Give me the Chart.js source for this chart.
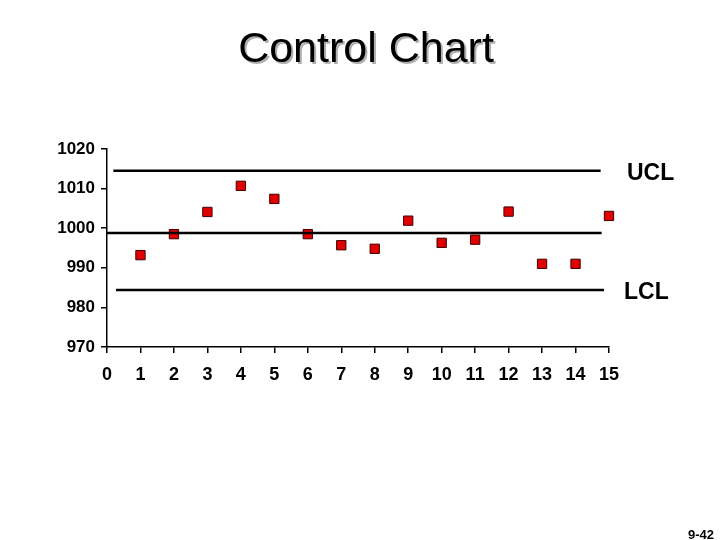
<!DOCTYPE html>
<html>
<head>
<meta charset="utf-8">
<script src="https://cdn.jsdelivr.net/npm/chart.js@4"></script>
<style>
  html, body { margin: 0; padding: 0; background: #fff; }
  #wrap { position: relative; width: 720px; height: 540px; overflow: hidden; }
  #title {
    position: absolute; left: 0; top: 26px; width: 732px; text-align: center;
    font: 43px/43px "Liberation Sans", Arial, sans-serif; color: #000;
    text-shadow: 2px 2px 0 #b0b0b0;
  }
  #pageNo {
    position: absolute; right: 6px; top: 528px;
    font: bold 13px/13px "Liberation Sans", Arial, sans-serif; color: #000;
  }
  canvas { position: absolute; left: 0; top: 0; }
</style>
</head>
<body>
<div id="wrap">
  <canvas id="chart" width="720" height="540"></canvas>
  <div id="title">Control Chart</div>
  <div id="pageNo">9-42</div>
</div>
<script>
"use strict";

// sample number and measured value
const samples = [1, 2, 3, 4, 5, 6, 7, 8, 9, 10, 11, 12, 13, 14, 15];
const values = [993.2, 998.5, 1004.1, 1010.7, 1007.4, 998.5, 995.7, 994.8,
                1001.9, 996.3, 997.1, 1004.2, 991.0, 991.0, 1003.1];

// control limits: [value, from x, to x]
const ucl = [1014.5, 0.19, 14.75];
const centerLine = [998.8, 0, 14.78];
const lcl = [984.4, 0.27, 14.85];
const limitLabels = ["UCL", "LCL"];

const X_MIN = 0, X_MAX = 15;
const Y_MIN = 970, Y_MAX = 1020, Y_STEP = 10;

const FONT = '"Liberation Sans", Arial, sans-serif';

const limitLine = (l) => ({
  type: "line",
  data: [{ x: l[1], y: l[0] }, { x: l[2], y: l[0] }],
  borderColor: "#000",
  borderWidth: 2.5,
  pointRadius: 0,
  showLine: true,
});

// UCL / LCL text to the right of the plot
const limitText = {
  id: "limitText",
  afterDraw(c) {
    const ctx = c.ctx;
    const ys = c.scales.y;
    const left = c.chartArea.right + 17;
    ctx.save();
    ctx.font = "bold 23px " + FONT;
    ctx.fillStyle = "#000";
    ctx.textBaseline = "middle";
    ctx.textAlign = "left";
    ctx.fillText(limitLabels[0], left + 1, ys.getPixelForValue(ucl[0]) + 3);
    ctx.fillText(limitLabels[1], left - 2, ys.getPixelForValue(lcl[0]) + 3);
    ctx.restore();
  },
};

new Chart(document.getElementById("chart"), {
  type: "scatter",
  data: {
    datasets: [
      limitLine(ucl),
      limitLine(centerLine),
      limitLine(lcl),
      {
        label: "samples",
        data: samples.map((s, i) => ({ x: s, y: values[i] })),
        pointStyle: "rect",
        pointRadius: 6.6,
        pointBackgroundColor: "#e00000",
        pointBorderColor: "#400000",
        pointBorderWidth: 1,
        showLine: false,
        clip: false,
      },
    ],
  },
  options: {
    responsive: false,
    animation: false,
    layout: { padding: { left: 0, top: 149, right: 111, bottom: 153 } },
    plugins: { legend: { display: false }, tooltip: { enabled: false } },
    scales: {
      x: {
        type: "linear",
        min: X_MIN, max: X_MAX,
        afterFit: (a) => { a.height = 40; },
        ticks: {
          stepSize: 1, padding: 11, color: "#000",
          callback: (v) => String(v),
          font: { family: FONT, size: 18, weight: "bold" },
        },
        grid: { drawOnChartArea: false, tickLength: 6, color: "#000", lineWidth: 1.5 },
        border: { color: "#000", width: 1.5 },
      },
      y: {
        min: Y_MIN, max: Y_MAX,
        afterFit: (a) => { a.width = 107; },
        ticks: {
          stepSize: Y_STEP, padding: 6, color: "#000",
          callback: (v) => String(v),
          font: { family: FONT, size: 17, weight: "bold" },
        },
        grid: { drawOnChartArea: false, tickLength: 6, color: "#000", lineWidth: 1.5 },
        border: { color: "#000", width: 1.5 },
      },
    },
  },
  plugins: [limitText],
});
</script>
</body>
</html>
